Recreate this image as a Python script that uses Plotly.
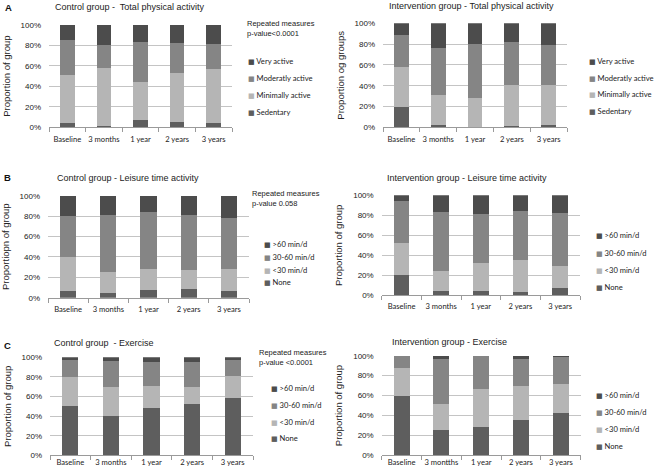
import plotly.graph_objects as go

W, H = 661, 476

# ---------------- data (percent) ----------------
categories = ["Baseline", "3 months", "1 year", "2 years", "3 years"]
categories_c_int = ["Baseline", "3 montths", "1 year", "2 years", "3 years"]

total_labels = ["Sedentary", "Minimally active", "Moderatly active", "Very active"]
time_labels = ["None", "<30 min/d", "30-60 min/d", ">60 min/d"]

# A: total physical activity
a_ctrl_sedentary = [4, 1, 7, 5, 4]
a_ctrl_minimal = [47, 57, 37, 48, 53]
a_ctrl_moderate = [34, 22, 39, 29, 24]
a_ctrl_very = [15, 20, 17, 18, 19]

a_int_sedentary = [20, 2, 0, 1, 2]
a_int_minimal = [38, 29, 28, 40, 39]
a_int_moderate = [31, 45, 52, 41, 38]
a_int_very = [11, 24, 20, 18, 21]

# B: leisure time activity
b_ctrl_none = [7, 5, 8, 9, 7]
b_ctrl_lt30 = [33, 20, 20, 18, 21]
b_ctrl_30_60 = [40, 56, 56, 54, 50]
b_ctrl_gt60 = [20, 19, 16, 19, 22]

b_int_none = [20, 4, 4, 3, 7]
b_int_lt30 = [32, 20, 28, 32, 22]
b_int_30_60 = [42, 59, 49, 49, 53]
b_int_gt60 = [6, 17, 19, 16, 18]

# C: exercise
c_ctrl_none = [50, 40, 48, 52, 58]
c_ctrl_lt30 = [30, 30, 23, 18, 23]
c_ctrl_30_60 = [17, 26, 24, 25, 16]
c_ctrl_gt60 = [3, 4, 5, 5, 3]

c_int_none = [60, 25, 28, 35, 42]
c_int_lt30 = [28, 27, 39, 35, 30]
c_int_30_60 = [12, 45, 33, 27, 27]
c_int_gt60 = [0, 3, 0, 3, 1]

colors = ["#5e5e5e", "#b5b5b5", "#858585", "#4c4c4c"]

TXT = "#222222"
ARIAL = "Liberation Sans, Arial, sans-serif"
CAL = "Lato, Open Sans, sans-serif"


def px(x):
    return x / W


def py(y):
    return 1 - y / H


panels = [
    dict(x0=49, x1=232, y0=25, y1=127.3, cats=categories,
         series=[a_ctrl_sedentary, a_ctrl_minimal, a_ctrl_moderate, a_ctrl_very],
         labels=total_labels, ytitle="Proportion of group", xstand=5,
         title="Control group -  Total physical activity", tx=53, ty=7,
         leg_x=246, leg_y=[61, 78, 95, 112],
         note="Repeated measures<br>p-value<0.0001", nx=245, ny=28),
    dict(x0=383, x1=567, y0=23.3, y1=127.3, cats=categories,
         series=[a_int_sedentary, a_int_minimal, a_int_moderate, a_int_very],
         labels=total_labels, ytitle="Proportion og groups", xstand=5,
         title="Intervention group - Total physical activity", tx=387, ty=6,
         leg_x=587, leg_y=[61, 78, 94, 111]),
    dict(x0=48, x1=249, y0=195.7, y1=297.7, cats=categories,
         series=[b_ctrl_none, b_ctrl_lt30, b_ctrl_30_60, b_ctrl_gt60],
         labels=time_labels, ytitle="Proportiopn of group", xstand=4,
         title="Control group - Leisure time activity", tx=55, ty=178,
         leg_x=262, leg_y=[244, 257, 270, 282],
         note="Repeated measures<br>p-value 0.058", nx=250, ny=198),
    dict(x0=381.7, x1=580, y0=195.3, y1=295.3, cats=categories,
         series=[b_int_none, b_int_lt30, b_int_30_60, b_int_gt60],
         labels=time_labels, ytitle="Proportion of group", xstand=4,
         title="Intervention group - Leisure time activity", tx=385, ty=178,
         leg_x=594, leg_y=[235, 253, 270, 287]),
    dict(x0=50, x1=253, y0=357.3, y1=455.3, cats=categories,
         series=[c_ctrl_none, c_ctrl_lt30, c_ctrl_30_60, c_ctrl_gt60],
         labels=time_labels, ytitle="Proportion of group", xstand=0,
         title="Control group  - Exercise", tx=52, ty=343,
         leg_x=269, leg_y=[388, 405, 422, 438],
         note="Repeated measures<br>p-value <0.0001", nx=257, ny=357),
    dict(x0=381.7, x1=580.7, y0=355.7, y1=455.3, cats=categories_c_int,
         series=[c_int_none, c_int_lt30, c_int_30_60, c_int_gt60],
         labels=time_labels, ytitle="Proportion of group", xstand=0,
         title="Intervention group - Exercise", tx=390, ty=342,
         leg_x=594, leg_y=[395, 412, 429, 446]),
]

fig = go.Figure()
annotations = []

for i, p in enumerate(panels):
    n = "" if i == 0 else str(i + 1)
    for vals, lab, col in zip(p["series"], p["labels"], colors):
        fig.add_trace(go.Bar(
            x=p["cats"], y=[v / 100 for v in vals], name=lab,
            marker=dict(color=col, line=dict(width=0)),
            xaxis="x" + n, yaxis="y" + n, showlegend=False,
        ))
    fig.update_layout(**{
        "xaxis" + n: dict(
            domain=[px(p["x0"]), px(p["x1"])], anchor="y" + n,
            type="category", tickson="boundaries", ticks="outside",
            ticklen=4, tickcolor="#9a9a9a", showline=True, linecolor="#9a9a9a",
            linewidth=1, showgrid=False, ticklabelstandoff=p["xstand"],
            tickangle=0, automargin=False,
            tickfont=dict(family=CAL, size=7.6, color=TXT), fixedrange=True,
        ),
        "yaxis" + n: dict(
            domain=[py(p["y1"]), py(p["y0"])], anchor="x" + n,
            range=[0, 1], dtick=0.2, tickformat=".0%",
            showgrid=True, gridcolor="#c4c4c4", gridwidth=1.3,
            zeroline=False, showline=False, ticks="",
            ticklabelstandoff=7, automargin=False, fixedrange=True,
            tickfont=dict(family=ARIAL, size=8, color=TXT),
            title=dict(text=p["ytitle"], standoff=8,
                       font=dict(family=ARIAL, size=9.5, color=TXT)),
        ),
    })
    annotations.append(dict(
        x=px(p["tx"]), y=py(p["ty"]), xref="paper", yref="paper",
        xanchor="left", yanchor="middle", showarrow=False, text=p["title"],
        font=dict(family=ARIAL, size=9, color=TXT),
    ))
    # legend entries (top: last series)
    for lab, col, ly in zip(p["labels"][::-1], colors[::-1], p["leg_y"]):
        annotations.append(dict(
            x=px(p["leg_x"]), y=py(ly), xref="paper", yref="paper",
            xanchor="left", yanchor="middle", showarrow=False,
            text=f"<span style='color:{col};font-family:DejaVu Sans;font-size:7px'>■</span> {lab}",
            font=dict(family=CAL, size=7.6, color=TXT),
        ))
    if "note" in p:
        annotations.append(dict(
            x=px(p["nx"]), y=py(p["ny"]), xref="paper", yref="paper",
            xanchor="left", yanchor="middle", showarrow=False, text=p["note"],
            align="left", font=dict(family=ARIAL, size=7.5, color=TXT),
        ))

for letter, lx, ly in [("A", 3, 7.5), ("B", 2, 177), ("C", 2, 345)]:
    annotations.append(dict(
        x=px(lx), y=py(ly), xref="paper", yref="paper", xanchor="left",
        yanchor="middle", showarrow=False, text=f"<b>{letter}</b>",
        font=dict(family=ARIAL, size=9.5, color="#111111"),
    ))

fig.update_layout(
    width=W, height=H, margin=dict(l=0, r=0, t=0, b=0, autoexpand=False),
    barmode="stack", bargap=0.6,
    paper_bgcolor="white", plot_bgcolor="white",
    annotations=annotations, showlegend=False,
)

fig.write_html(
    "out.html",
    config={"displayModeBar": False, "staticPlot": False},
    post_script="document.body.style.margin='0';document.body.style.padding='0';",
)
